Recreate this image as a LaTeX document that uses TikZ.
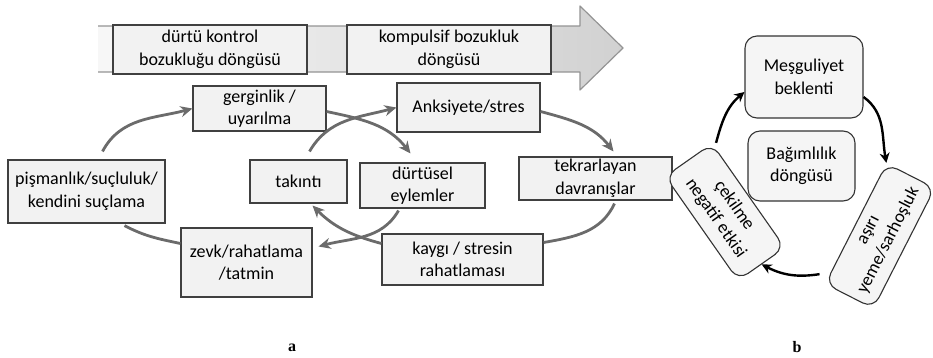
\documentclass[tikz,border=0pt]{standalone}
\usepackage{fontspec}
\setmainfont{Carlito}
\newfontfamily\labelserif{Liberation Serif}
\usetikzlibrary{arrows.meta}
\begin{document}
\begin{tikzpicture}[x=1pt,y=1pt,
  txt/.style={font=\fontsize{18}{22.5}\selectfont, align=center, inner sep=0pt},
  sqbox/.style={txt, draw=black!75, line width=1.1pt, fill=black!5},
  rbox/.style={txt, draw=black!80, line width=1.1pt, fill=black!4, rounded corners=12pt},
  garrow/.style={draw=black!58, line width=2.8pt, -{Stealth[length=12pt,width=11pt]}},
  gline/.style={draw=black!58, line width=2.8pt},
  barrow/.style={draw=black, line width=2.4pt, -{Stealth[length=10pt,width=10pt]}},
  panel/.style={font=\labelserif\bfseries\fontsize{16}{18}\selectfont, inner sep=0pt},
]
\useasboundingbox (0,0) rectangle (933,-357);

% wide progress arrow behind the two cycle titles
\path[left color=black!3, right color=black!18]
  (98,-26) -- (580,-26) -- (580,-6) -- (623,-48) -- (580,-90) -- (580,-72) -- (98,-72) -- cycle;
\draw[black!42, line width=1.2pt, line join=round]
  (98,-26) -- (580,-26) -- (580,-6) -- (623,-48) -- (580,-90) -- (580,-72) -- (98,-72);

\node[sqbox, minimum width=194pt, minimum height=49pt] (t1) at (210,-49.5)
  {dürtü kontrol\\bozukluğu döngüsü};
\node[sqbox, minimum width=204pt, minimum height=49pt] (t2) at (449,-49.5)
  {kompulsif bozukluk\\döngüsü};

% panel a: the two interlocking cycles
\node[sqbox, minimum width=133pt, minimum height=45pt] (ger) at (259.5,-108.5) {gerginlik /\\uyarılma};
\node[sqbox, minimum width=157pt, minimum height=63pt] (pis) at (86.5,-191.5) {pişmanlık/suçluluk/\\kendini suçlama};
\node[sqbox, minimum width=131pt, minimum height=69pt] (zevk) at (246.5,-262.5) {zevk/rahatlama\\/tatmin};
\node[sqbox, minimum width=97pt, minimum height=43pt] (tak) at (298.5,-181.5) {takıntı};
\node[sqbox, minimum width=125pt, minimum height=45pt] (durt) at (422.5,-185.5) {dürtüsel\\eylemler};
\node[sqbox, minimum width=143pt, minimum height=49pt] (anks) at (468.5,-107.5) {Anksiyete/stres};
\node[sqbox, minimum width=153pt, minimum height=43pt] (tekr) at (595.5,-178.5) {tekrarlayan\\davranışlar};
\node[sqbox, minimum width=161pt, minimum height=51pt] (kaygi) at (462.5,-259.5) {kaygı / stresin\\rahatlaması};

% impulse-control cycle
\draw[garrow] ([xshift=16pt,yshift=8pt]pis.north) to[out=62,in=195] (ger.west);
\draw[garrow] ([yshift=-3pt]ger.east) to[out=-12,in=128] ([xshift=-12pt,yshift=9pt]durt.north);
\draw[garrow] ([xshift=-24pt,yshift=-2pt]durt.south) to[out=240,in=15] ([xshift=6pt,yshift=16pt]zevk.east);
\draw[gline] ([yshift=19pt]zevk.west) to[out=168,in=-28] ([xshift=38pt,yshift=-2pt]pis.south);

% compulsive cycle
\draw[garrow] ([xshift=11pt,yshift=8pt]tak.north) to[out=60,in=195] (anks.west);
\draw[garrow] ([yshift=-4pt]anks.east) to[out=-15,in=128] ([xshift=18pt,yshift=5pt]tekr.north);
\draw[gline] ([xshift=19pt,yshift=-3pt]tekr.south) to[out=-115,in=10] ([yshift=17pt]kaygi.east);
\draw[garrow] ([yshift=16pt]kaygi.west) to[out=165,in=-45] ([xshift=14pt,yshift=-2pt]tak.south);

% panel b: addiction cycle
\node[rbox, minimum width=118pt, minimum height=82pt] (mesg) at (804,-77) {Meşguliyet\\beklenti};
\node[rbox, minimum width=107pt, minimum height=70pt] (bag) at (801.5,-166) {Bağımlılık\\döngüsü};
\node[rbox, minimum width=135pt, minimum height=54pt, rotate=63] (asiri) at (880,-236) {aşırı\\yeme/sarhoşluk};
\node[rbox, minimum width=127pt, minimum height=57pt, rotate=-55] (cek) at (725,-212) {çekilme\\negatif etkisi};

\draw[barrow] ([yshift=-20pt]mesg.east) to[out=-36,in=100] (asiri.north east);
\draw[barrow] ([xshift=-5pt,yshift=10pt]asiri.north west) to[out=-171,in=-27] (cek.east);
\draw[barrow] ([xshift=4pt]cek.north west) to[out=75,in=220] ([yshift=-15pt]mesg.west);

\node[panel] (pa) at (292,-348) {a};
\node[panel] (pb) at (797,-347) {b};
\end{tikzpicture}
\end{document}
